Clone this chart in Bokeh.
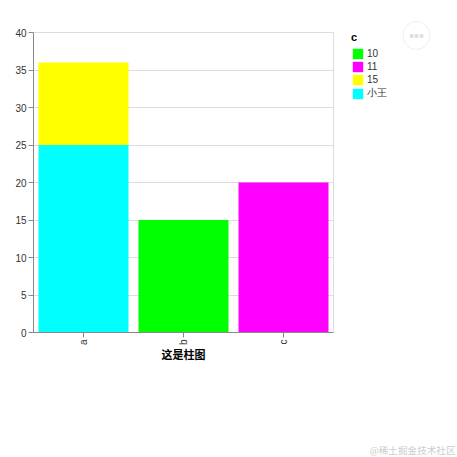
from bokeh.plotting import figure
from bokeh.models import FactorRange, Range1d, Legend, LegendItem, Label, FixedTicker
from bokeh.embed import file_html
from bokeh.resources import INLINE
import math

categories = ["a", "b", "c"]
segments = [
    ("小王", "a", 0, 25, "#00ffff"),
    ("15", "a", 25, 36, "#ffff00"),
    ("10", "b", 0, 15, "#00ff00"),
    ("11", "c", 0, 20, "#ff00ff"),
]
legend_order = ["10", "11", "15", "小王"]
y_ticks = [0, 5, 10, 15, 20, 25, 30, 35, 40]
x_title = "这是柱图"
legend_title = "c"
watermark = "@稀土掘金技术社区"
FONT = "Liberation Sans"

p = figure(width=457, height=457, output_backend="svg", toolbar_location=None,
           x_range=FactorRange(*categories, range_padding=0, factor_padding=0, group_padding=0),
           y_range=Range1d(0, 40),
           frame_width=300, frame_height=300,
           min_border_left=33, min_border_right=124, min_border_top=32, min_border_bottom=125)
p.x_range.range_padding = 0

renderers = {}
for name, cat, lo, hi, col in segments:
    renderers[name] = p.vbar(x=[cat], bottom=[lo], top=[hi], width=0.9,
                             fill_color=col, line_color=None)

p.outline_line_color = "#dddddd"
p.xgrid.visible = False
p.ygrid.grid_line_color = "#dddddd"
p.ygrid.level = "underlay"
p.yaxis.ticker = FixedTicker(ticks=y_ticks)
for ax in (p.xaxis[0], p.yaxis[0]):
    ax.axis_line_color = "#888888"
    ax.major_tick_line_color = "#888888"
    ax.major_tick_in = 0
    ax.major_tick_out = 5
    ax.minor_tick_line_color = None
    ax.major_label_text_font = FONT
    ax.major_label_text_font_size = "10px"
    ax.major_label_text_color = "#333333"
    ax.major_label_standoff = 2
p.xaxis.major_label_orientation = math.pi / 2
p.xaxis.axis_label = x_title
p.xaxis.axis_label_text_font = "Noto Sans CJK SC"
p.xaxis.axis_label_text_font_size = "11px"
p.xaxis.axis_label_text_font_style = "bold"
p.xaxis.axis_label_text_color = "#000000"
p.xaxis.axis_label_standoff = -2

legend = Legend(items=[LegendItem(label=n, renderers=[renderers[n]]) for n in legend_order],
                location=(18, 232), orientation="vertical",
                title=legend_title, title_text_font=FONT, title_text_font_size="11px",
                title_text_font_style="bold", title_text_color="#000000", title_standoff=4,
                label_text_font=FONT, label_text_font_size="10px", label_text_color="#333333",
                glyph_width=13, glyph_height=13, label_standoff=3, label_height=13,
                spacing=0, padding=0, margin=0, border_line_color=None, background_fill_color=None)
p.add_layout(legend, "right")

p.add_layout(Label(x=416, y=35, x_units="canvas", y_units="canvas", text="•••",
                   text_font=FONT, text_font_size="14px", text_color="#dddddd",
                   text_align="center", text_baseline="middle",
                   border_line_color="#eeeeee", border_line_width=1, border_radius=14,
                   padding=6), "right")
p.add_layout(Label(x=455, y=449, x_units="canvas", y_units="canvas", text=watermark,
                   text_font="Noto Sans CJK SC", text_font_size="9.6px", text_color="#cccccc",
                   text_align="right", text_baseline="middle"), "below")

open("out.html", "w").write(file_html(p, INLINE))
